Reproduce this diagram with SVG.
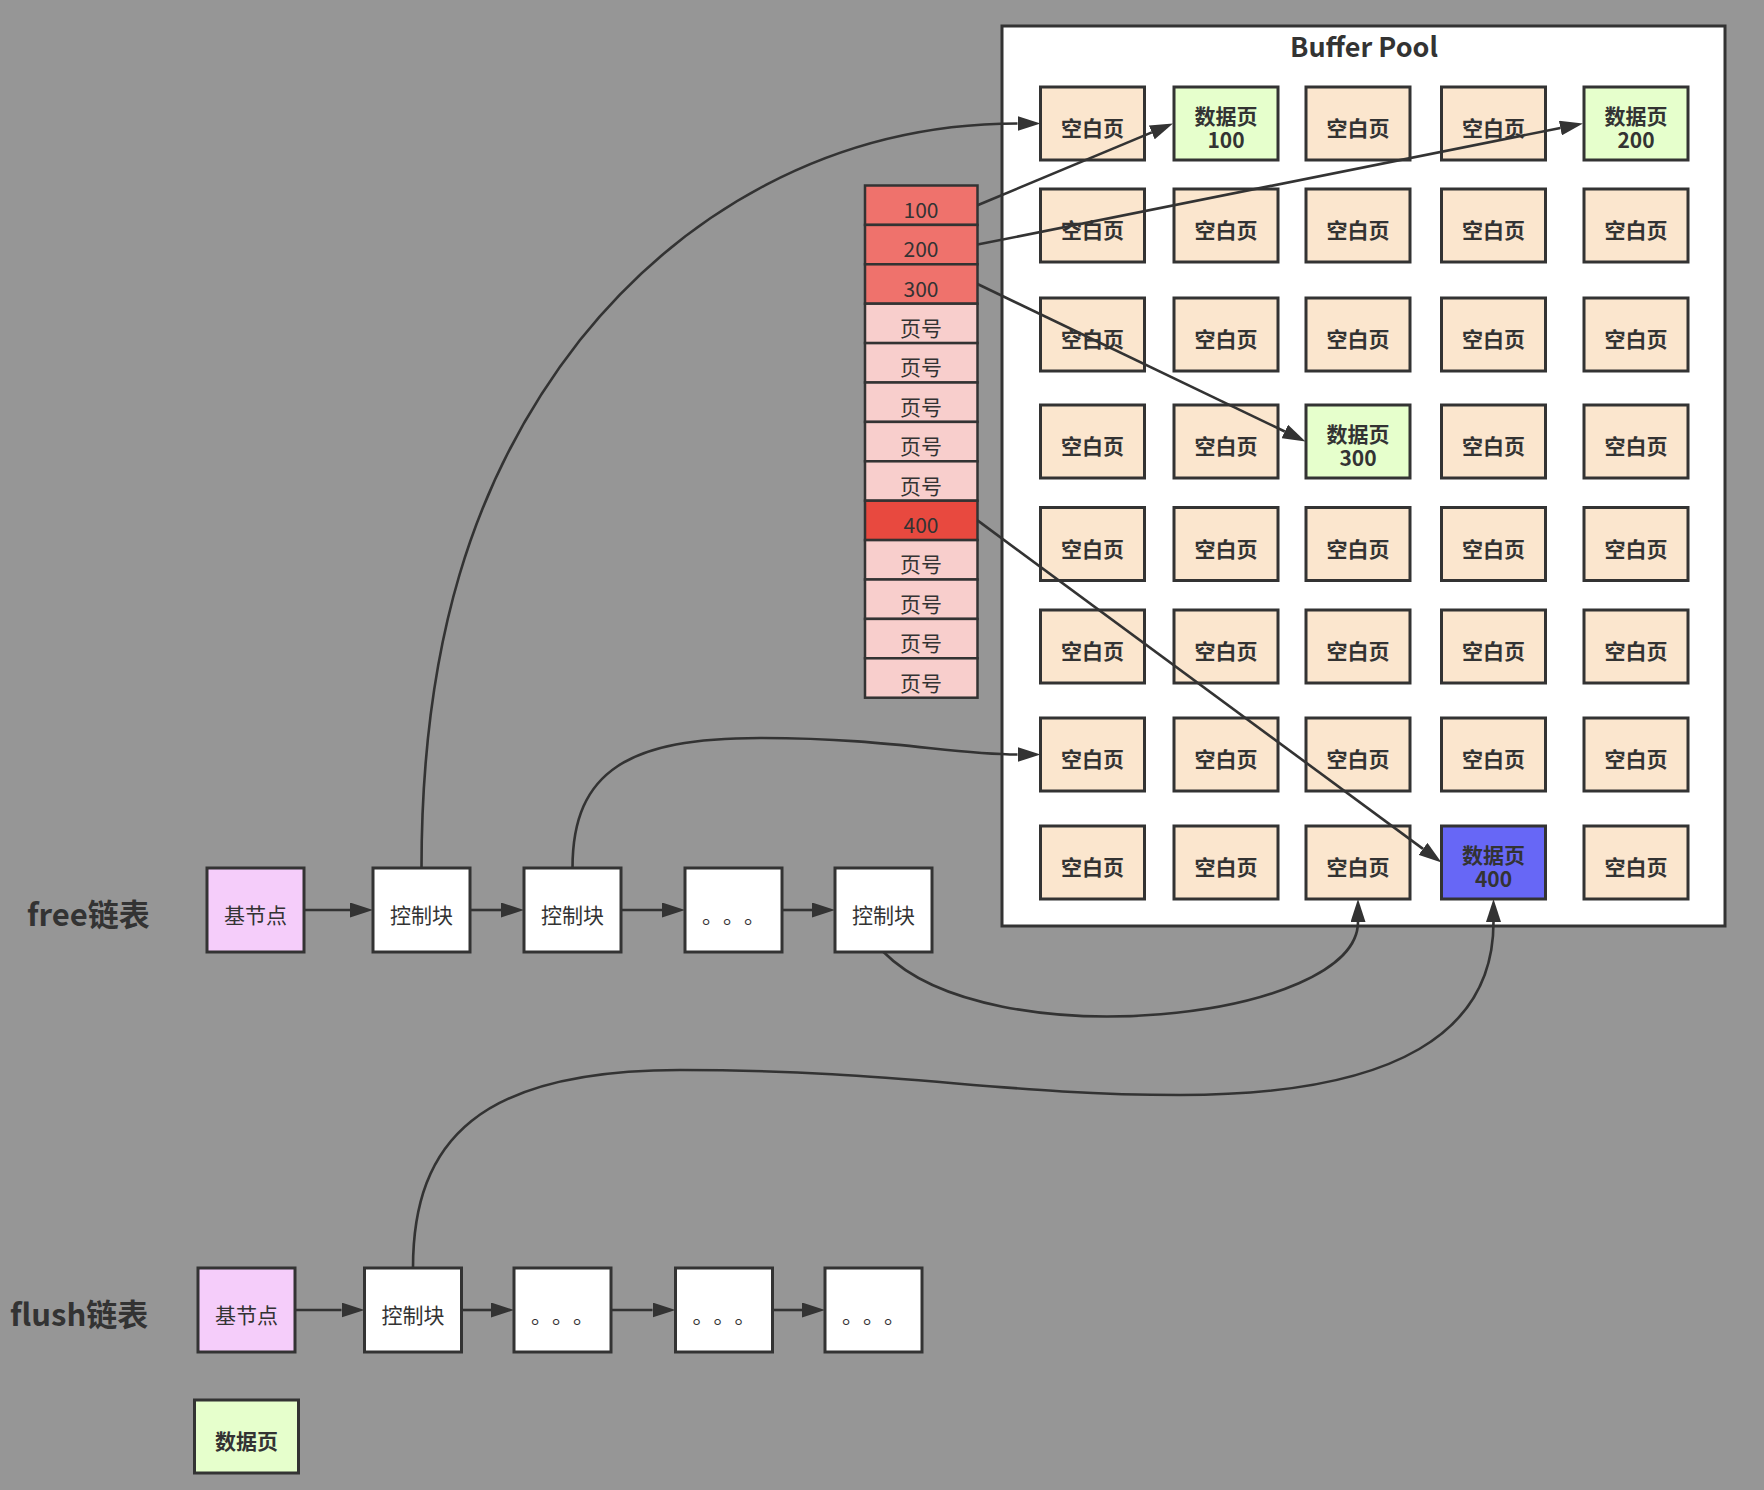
<svg xmlns="http://www.w3.org/2000/svg" width="1764" height="1490" viewBox="0 0 1764 1490">
<defs>
<style>
text{font-family:"Noto Sans CJK SC","Microsoft YaHei",sans-serif;fill:#333;text-spacing-trim:space-all;}
.lbl{font-size:21px;text-anchor:middle;dominant-baseline:central;}
.dots{font-size:21px;dominant-baseline:central;}
.b{font-weight:bold;}
.pg{stroke:#333;stroke-width:3;}
.blank{fill:#FBE6CE;}
.data{fill:#E6FFCC;}
.hot{fill:#6767F6;}
.cell{stroke:#333;stroke-width:2.5;}
.ln{fill:none;stroke:#333;stroke-width:2.6;}
.title{font-size:31px;font-weight:bold;}
</style>
<marker id="ah" viewBox="0 0 23 15" markerWidth="23" markerHeight="15" refX="0" refY="7.5" orient="auto" markerUnits="userSpaceOnUse">
<path d="M0,0 L23,7.5 L0,15 z" fill="#333"/>
</marker>
</defs>
<rect width="1764" height="1490" fill="#969696"/>

<g id="buffer-pool">
<rect x="1002" y="26" width="723" height="900" fill="#fff" stroke="#333" stroke-width="3"/>
<text x="1364" y="57" font-size="27" font-weight="bold" text-anchor="middle">Buffer Pool</text>
</g>

<g id="pages">
<!-- row 1 -->
<g id="p-1-1"><rect class="pg blank" x="1040.5" y="87" width="104" height="73"/><text class="lbl b" x="1092.5" y="127">空白页</text></g>
<g id="p-1-2"><rect class="pg data" x="1174" y="87" width="104" height="73"/><text class="lbl b" x="1226" y="115">数据页<tspan x="1226" dy="24">100</tspan></text></g>
<g id="p-1-3"><rect class="pg blank" x="1306" y="87" width="104" height="73"/><text class="lbl b" x="1358" y="127">空白页</text></g>
<g id="p-1-4"><rect class="pg blank" x="1441.5" y="87" width="104" height="73"/><text class="lbl b" x="1493.5" y="127">空白页</text></g>
<g id="p-1-5"><rect class="pg data" x="1584" y="87" width="104" height="73"/><text class="lbl b" x="1636" y="115">数据页<tspan x="1636" dy="24">200</tspan></text></g>
<!-- row 2 -->
<g id="p-2-1"><rect class="pg blank" x="1040.5" y="189" width="104" height="73"/><text class="lbl b" x="1092.5" y="229">空白页</text></g>
<g id="p-2-2"><rect class="pg blank" x="1174" y="189" width="104" height="73"/><text class="lbl b" x="1226" y="229">空白页</text></g>
<g id="p-2-3"><rect class="pg blank" x="1306" y="189" width="104" height="73"/><text class="lbl b" x="1358" y="229">空白页</text></g>
<g id="p-2-4"><rect class="pg blank" x="1441.5" y="189" width="104" height="73"/><text class="lbl b" x="1493.5" y="229">空白页</text></g>
<g id="p-2-5"><rect class="pg blank" x="1584" y="189" width="104" height="73"/><text class="lbl b" x="1636" y="229">空白页</text></g>
<!-- row 3 -->
<g id="p-3-1"><rect class="pg blank" x="1040.5" y="298" width="104" height="73"/><text class="lbl b" x="1092.5" y="338">空白页</text></g>
<g id="p-3-2"><rect class="pg blank" x="1174" y="298" width="104" height="73"/><text class="lbl b" x="1226" y="338">空白页</text></g>
<g id="p-3-3"><rect class="pg blank" x="1306" y="298" width="104" height="73"/><text class="lbl b" x="1358" y="338">空白页</text></g>
<g id="p-3-4"><rect class="pg blank" x="1441.5" y="298" width="104" height="73"/><text class="lbl b" x="1493.5" y="338">空白页</text></g>
<g id="p-3-5"><rect class="pg blank" x="1584" y="298" width="104" height="73"/><text class="lbl b" x="1636" y="338">空白页</text></g>
<!-- row 4 -->
<g id="p-4-1"><rect class="pg blank" x="1040.5" y="405" width="104" height="73"/><text class="lbl b" x="1092.5" y="445">空白页</text></g>
<g id="p-4-2"><rect class="pg blank" x="1174" y="405" width="104" height="73"/><text class="lbl b" x="1226" y="445">空白页</text></g>
<g id="p-4-3"><rect class="pg data" x="1306" y="405" width="104" height="73"/><text class="lbl b" x="1358" y="433">数据页<tspan x="1358" dy="24">300</tspan></text></g>
<g id="p-4-4"><rect class="pg blank" x="1441.5" y="405" width="104" height="73"/><text class="lbl b" x="1493.5" y="445">空白页</text></g>
<g id="p-4-5"><rect class="pg blank" x="1584" y="405" width="104" height="73"/><text class="lbl b" x="1636" y="445">空白页</text></g>
<!-- row 5 -->
<g id="p-5-1"><rect class="pg blank" x="1040.5" y="507.5" width="104" height="73"/><text class="lbl b" x="1092.5" y="547.5">空白页</text></g>
<g id="p-5-2"><rect class="pg blank" x="1174" y="507.5" width="104" height="73"/><text class="lbl b" x="1226" y="547.5">空白页</text></g>
<g id="p-5-3"><rect class="pg blank" x="1306" y="507.5" width="104" height="73"/><text class="lbl b" x="1358" y="547.5">空白页</text></g>
<g id="p-5-4"><rect class="pg blank" x="1441.5" y="507.5" width="104" height="73"/><text class="lbl b" x="1493.5" y="547.5">空白页</text></g>
<g id="p-5-5"><rect class="pg blank" x="1584" y="507.5" width="104" height="73"/><text class="lbl b" x="1636" y="547.5">空白页</text></g>
<!-- row 6 -->
<g id="p-6-1"><rect class="pg blank" x="1040.5" y="610" width="104" height="73"/><text class="lbl b" x="1092.5" y="650">空白页</text></g>
<g id="p-6-2"><rect class="pg blank" x="1174" y="610" width="104" height="73"/><text class="lbl b" x="1226" y="650">空白页</text></g>
<g id="p-6-3"><rect class="pg blank" x="1306" y="610" width="104" height="73"/><text class="lbl b" x="1358" y="650">空白页</text></g>
<g id="p-6-4"><rect class="pg blank" x="1441.5" y="610" width="104" height="73"/><text class="lbl b" x="1493.5" y="650">空白页</text></g>
<g id="p-6-5"><rect class="pg blank" x="1584" y="610" width="104" height="73"/><text class="lbl b" x="1636" y="650">空白页</text></g>
<!-- row 7 -->
<g id="p-7-1"><rect class="pg blank" x="1040.5" y="718" width="104" height="73"/><text class="lbl b" x="1092.5" y="758">空白页</text></g>
<g id="p-7-2"><rect class="pg blank" x="1174" y="718" width="104" height="73"/><text class="lbl b" x="1226" y="758">空白页</text></g>
<g id="p-7-3"><rect class="pg blank" x="1306" y="718" width="104" height="73"/><text class="lbl b" x="1358" y="758">空白页</text></g>
<g id="p-7-4"><rect class="pg blank" x="1441.5" y="718" width="104" height="73"/><text class="lbl b" x="1493.5" y="758">空白页</text></g>
<g id="p-7-5"><rect class="pg blank" x="1584" y="718" width="104" height="73"/><text class="lbl b" x="1636" y="758">空白页</text></g>
<!-- row 8 -->
<g id="p-8-1"><rect class="pg blank" x="1040.5" y="826" width="104" height="73"/><text class="lbl b" x="1092.5" y="866">空白页</text></g>
<g id="p-8-2"><rect class="pg blank" x="1174" y="826" width="104" height="73"/><text class="lbl b" x="1226" y="866">空白页</text></g>
<g id="p-8-3"><rect class="pg blank" x="1306" y="826" width="104" height="73"/><text class="lbl b" x="1358" y="866">空白页</text></g>
<g id="p-8-4"><rect class="pg hot" x="1441.5" y="826" width="104" height="73"/><text class="lbl b" x="1493.5" y="854">数据页<tspan x="1493.5" dy="24">400</tspan></text></g>
<g id="p-8-5"><rect class="pg blank" x="1584" y="826" width="104" height="73"/><text class="lbl b" x="1636" y="866">空白页</text></g>
</g>

<g id="page-numbers">
<g id="n-100"><rect class="cell" fill="#EF726C" x="865" y="185.5" width="112.5" height="39.4"/><text class="lbl" x="921" y="208.7">100</text></g>
<g id="n-200"><rect class="cell" fill="#EF726C" x="865" y="224.9" width="112.5" height="39.4"/><text class="lbl" x="921" y="248.1">200</text></g>
<g id="n-300"><rect class="cell" fill="#EF726C" x="865" y="264.3" width="112.5" height="39.4"/><text class="lbl" x="921" y="287.5">300</text></g>
<g id="n-4"><rect class="cell" fill="#F8CECC" x="865" y="303.7" width="112.5" height="39.4"/><text class="lbl" x="921" y="326.9">页号</text></g>
<g id="n-5"><rect class="cell" fill="#F8CECC" x="865" y="343.1" width="112.5" height="39.4"/><text class="lbl" x="921" y="366.3">页号</text></g>
<g id="n-6"><rect class="cell" fill="#F8CECC" x="865" y="382.5" width="112.5" height="39.4"/><text class="lbl" x="921" y="405.7">页号</text></g>
<g id="n-7"><rect class="cell" fill="#F8CECC" x="865" y="421.9" width="112.5" height="39.4"/><text class="lbl" x="921" y="445.1">页号</text></g>
<g id="n-8"><rect class="cell" fill="#F8CECC" x="865" y="461.3" width="112.5" height="39.4"/><text class="lbl" x="921" y="484.5">页号</text></g>
<g id="n-400"><rect class="cell" fill="#E8493F" x="865" y="500.7" width="112.5" height="39.4"/><text class="lbl" x="921" y="523.9">400</text></g>
<g id="n-10"><rect class="cell" fill="#F8CECC" x="865" y="540.1" width="112.5" height="39.4"/><text class="lbl" x="921" y="563.3">页号</text></g>
<g id="n-11"><rect class="cell" fill="#F8CECC" x="865" y="579.5" width="112.5" height="39.4"/><text class="lbl" x="921" y="602.7">页号</text></g>
<g id="n-12"><rect class="cell" fill="#F8CECC" x="865" y="618.9" width="112.5" height="39.4"/><text class="lbl" x="921" y="642.1">页号</text></g>
<g id="n-13"><rect class="cell" fill="#F8CECC" x="865" y="658.3" width="112.5" height="39.4"/><text class="lbl" x="921" y="681.5">页号</text></g>
</g>

<g id="free-list">
<text class="title" x="27" y="926">free链表</text>
<g id="free-base"><rect class="pg" fill="#F5CDFA" x="207" y="868" width="97" height="84"/><text class="lbl" x="255.5" y="914">基节点</text></g>
<g id="free-c1"><rect class="pg" fill="#fff" x="373" y="868" width="97" height="84"/><text class="lbl" x="421.5" y="914">控制块</text></g>
<g id="free-c2"><rect class="pg" fill="#fff" x="524" y="868" width="97" height="84"/><text class="lbl" x="572.5" y="914">控制块</text></g>
<g id="free-dots"><rect class="pg" fill="#fff" x="685" y="868" width="97" height="84"/><text class="dots" x="702 723 744" y="914">。。。</text></g>
<g id="free-c3"><rect class="pg" fill="#fff" x="835" y="868" width="97" height="84"/><text class="lbl" x="883.5" y="914">控制块</text></g>
</g>

<g id="flush-list">
<text class="title" x="10" y="1326">flush链表</text>
<g id="flush-base"><rect class="pg" fill="#F5CDFA" x="198" y="1268" width="97" height="84"/><text class="lbl" x="246.5" y="1314">基节点</text></g>
<g id="flush-c1"><rect class="pg" fill="#fff" x="364.5" y="1268" width="97" height="84"/><text class="lbl" x="413" y="1314">控制块</text></g>
<g id="flush-d1"><rect class="pg" fill="#fff" x="514" y="1268" width="97" height="84"/><text class="dots" x="531 552 573" y="1314">。。。</text></g>
<g id="flush-d2"><rect class="pg" fill="#fff" x="675.5" y="1268" width="97" height="84"/><text class="dots" x="692.5 713.5 734.5" y="1314">。。。</text></g>
<g id="flush-d3"><rect class="pg" fill="#fff" x="825" y="1268" width="97" height="84"/><text class="dots" x="842 863 884" y="1314">。。。</text></g>
</g>

<g id="legend">
<rect class="pg data" x="194.5" y="1400" width="104" height="73"/><text class="lbl b" x="246.5" y="1440">数据页</text>
</g>

<g id="connectors">
<line class="ln" x1="304" y1="910" x2="350" y2="910" marker-end="url(#ah)"/>
<line class="ln" x1="470" y1="910" x2="501" y2="910" marker-end="url(#ah)"/>
<line class="ln" x1="621" y1="910" x2="662" y2="910" marker-end="url(#ah)"/>
<line class="ln" x1="782" y1="910" x2="812" y2="910" marker-end="url(#ah)"/>
<line class="ln" x1="295" y1="1310" x2="341.5" y2="1310" marker-end="url(#ah)"/>
<line class="ln" x1="461.5" y1="1310" x2="491" y2="1310" marker-end="url(#ah)"/>
<line class="ln" x1="611" y1="1310" x2="652.5" y2="1310" marker-end="url(#ah)"/>
<line class="ln" x1="772.5" y1="1310" x2="802" y2="1310" marker-end="url(#ah)"/>
<line class="ln" x1="977.5" y1="205.2" x2="1151.8" y2="132.4" marker-end="url(#ah)"/>
<line class="ln" x1="977.5" y1="244.6" x2="1560.4" y2="128" marker-end="url(#ah)"/>
<line class="ln" x1="977.5" y1="284" x2="1284.8" y2="431.5" marker-end="url(#ah)"/>
<line class="ln" x1="977.5" y1="520.4" x2="1423" y2="848.9" marker-end="url(#ah)"/>
<path class="ln" d="M421.5 868 C421.5 650 470 480 580 340 C680 215 830 123.5 1017.5 123.5" marker-end="url(#ah)"/>
<path class="ln" d="M572.5 868 C572.5 770 630 738 760 738 C890 738 950 754.5 1017.5 754.5" marker-end="url(#ah)"/>
<path class="ln" d="M883.5 952 C990 1060 1358 1020 1358 922" marker-end="url(#ah)"/>
<path class="ln" d="M413 1268 C413 1140 480 1070 680 1070 C900 1070 1000 1095 1180 1095 C1400 1095 1493.5 1030 1493.5 922" marker-end="url(#ah)"/>
</g>
</svg>
